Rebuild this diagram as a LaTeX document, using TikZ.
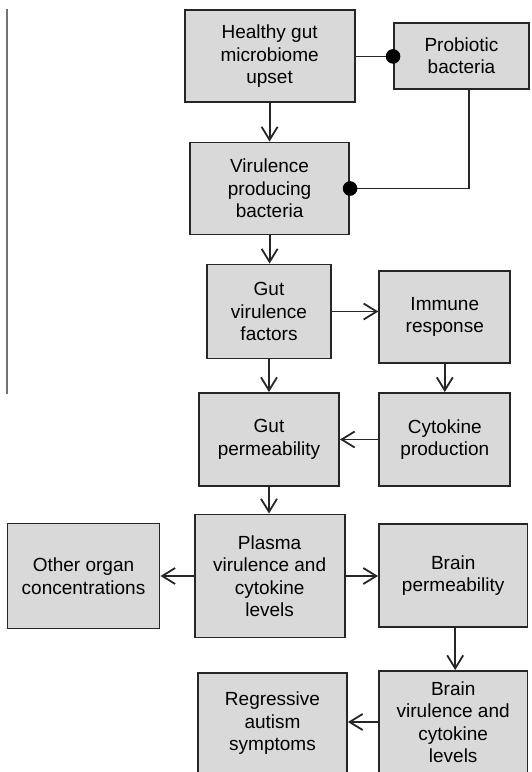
\documentclass[tikz,border=0pt]{standalone}
\usepackage{fontspec}
\setmainfont{Liberation Sans}
\usetikzlibrary{arrows.meta}
\definecolor{boxfill}{HTML}{D9D9D9}
\tikzset{
  box/.style={draw=black!85, fill=boxfill, line width=1.9pt, rectangle, inner sep=0pt,
    align=center, font=\fontsize{19}{22.5}\selectfont},
  arr/.style={line width=1.8pt, draw=black!85, -{Straight Barb[length=13pt,width=16pt,line width=1.8pt]}},
  link/.style={line width=1.8pt, draw=black!85},
}
\begin{document}
\begin{tikzpicture}[x=1pt,y=-1pt]
\useasboundingbox (0,0) rectangle (531,772);
\draw[line width=2pt, draw=gray!90!black] (7,9) -- (7,394);

\node[box, minimum width=170pt, minimum height=92pt] (healthy) at (269.6,56.4) {Healthy gut\\microbiome\\upset};
\node[box, minimum width=135pt, minimum height=66pt] (probiotic) at (461.5,55.7) {Probiotic\\bacteria};
\node[box, minimum width=159pt, minimum height=92pt] (virulence) at (269.6,188.5) {Virulence\\producing\\bacteria};
\node[box, minimum width=124.6pt, minimum height=94pt] (gutvir) at (269,311.5) {Gut\\virulence\\factors};
\node[box, minimum width=131pt, minimum height=92pt] (immune) at (444.8,317) {Immune\\response};
\node[box, minimum width=140pt, minimum height=93pt] (gutperm) at (269,439.5) {Gut\\permeability};
\node[box, minimum width=131pt, minimum height=93pt] (cytokine) at (444.8,439.5) {Cytokine\\production};
\node[box, minimum width=152pt, minimum height=105pt] (other) at (83.5,576) {Other organ\\concentrations};
\node[box, minimum width=150pt, minimum height=123pt] (plasma) at (269.6,576) {Plasma\\virulence and\\cytokine\\levels};
\node[box, minimum width=148.5pt, minimum height=103pt] (brainperm) at (453.2,575.5) {Brain\\permeability};
\node[box, minimum width=148.5pt, minimum height=102pt] (brainvir) at (453.2,722) {Brain\\virulence and\\cytokine\\levels};
\node[box, minimum width=149pt, minimum height=101pt] (regressive) at (272.5,723.5) {Regressive\\autism\\symptoms};

% inhibition links
\draw[link] (healthy.east) -- (healthy.east -| probiotic.west);
\fill (healthy.east -| probiotic.west) circle (7.3pt);
\coordinate (pdown) at ([xshift=7.5pt]probiotic.south);
\draw[link] (pdown) |- (virulence.east);
\fill (virulence.east) circle (7.3pt);

% arrows
\draw[arr] (healthy.south) -- (virulence.north);
\draw[arr] (virulence.south) -- (virulence.south |- gutvir.north);
\draw[arr] (gutvir.east) -- (gutvir.east -| immune.west);
\draw[arr] (gutvir.south) -- (gutvir.south |- gutperm.north);
\draw[arr] (immune.south) -- (immune.south |- cytokine.north);
\draw[arr] (cytokine.west) -- (cytokine.west -| gutperm.east);
\draw[arr] (gutperm.south) -- (gutperm.south |- plasma.north);
\draw[arr] (plasma.west) -- (plasma.west -| other.east);
\draw[arr] (plasma.east) -- (plasma.east -| brainperm.west);
\draw[arr] ([xshift=2pt]brainperm.south) -- ([xshift=2pt]brainperm.south |- brainvir.north);
\draw[arr] (brainvir.west) -- (brainvir.west -| regressive.east);
\end{tikzpicture}
\end{document}
